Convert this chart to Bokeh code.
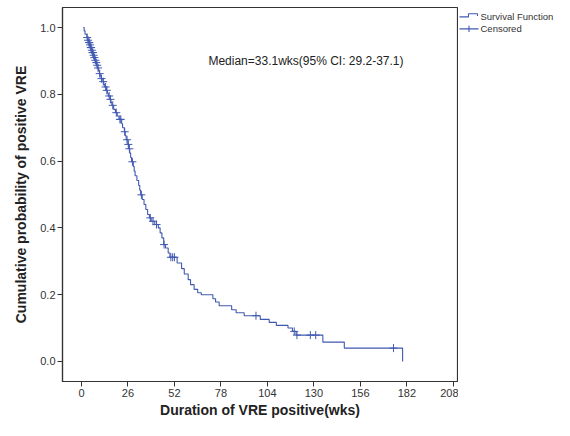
import numpy as np
from bokeh.plotting import figure
from bokeh.layouts import row
from bokeh.models import Range1d, Label, FixedTicker
from bokeh.core.properties import value
from bokeh.embed import file_html
from bokeh.resources import INLINE

# ---- data ----
start_week = 1.0
event_weeks = [1.5, 2, 3, 3.5, 4, 4.5, 5, 5.5, 6, 6.5,
               7, 7.5, 8, 8.5, 9, 9.5, 10, 10.5, 11, 12,
               12.5, 13, 14, 14.5, 15, 16, 16.5, 17, 18, 19,
               20, 21, 22.5, 23, 24, 24.5, 25, 26, 26.5, 27,
               27.5, 28, 29, 29.5, 30, 31, 32, 32.6, 33.1, 34,
               35, 36, 37, 38, 39, 41, 43, 44, 45, 46,
               47, 48.5, 49.5, 53.5, 56, 57.5, 59.7, 61, 63, 65,
               67, 73.5, 75, 77, 84, 86.5, 91, 100, 105, 109,
               115.5, 118, 120, 135, 147, 179.6]
survival = [0.99, 0.98, 0.97, 0.962, 0.955, 0.948, 0.94, 0.932, 0.925, 0.917,
            0.91, 0.902, 0.895, 0.887, 0.879, 0.871, 0.862, 0.855, 0.847, 0.838,
            0.83, 0.822, 0.812, 0.803, 0.795, 0.785, 0.776, 0.767, 0.755, 0.745,
            0.735, 0.725, 0.712, 0.70, 0.688, 0.676, 0.664, 0.65, 0.637, 0.624,
            0.611, 0.598, 0.584, 0.57, 0.556, 0.542, 0.527, 0.513, 0.499, 0.485,
            0.47, 0.455, 0.44, 0.43, 0.42, 0.41, 0.40, 0.385, 0.37, 0.35,
            0.34, 0.325, 0.312, 0.295, 0.278, 0.262, 0.245, 0.23, 0.216, 0.206,
            0.2, 0.188, 0.178, 0.167, 0.155, 0.146, 0.137, 0.126, 0.117, 0.108,
            0.1, 0.09, 0.079, 0.058, 0.04, 0.0]
censored_weeks = [3.2, 3.7, 4.2, 4.4, 4.8, 5.2, 5.4, 5.8, 6.2, 6.4,
                  6.8, 7.2, 7.8, 8.3, 8.8, 9.3, 10.2, 11.2, 12.2, 13.5,
                  14.2, 15.5, 16.2, 17.5, 19.5, 21.5, 22, 24.2, 25.5, 26.2,
                  26.8, 28.5, 33.5, 38.5, 40, 42, 46.2, 50, 51, 52,
                  97.6, 119, 120.5, 128, 131, 174.5]
x_ticks = [0, 26, 52, 78, 104, 130, 156, 182, 208]
y_ticks = [0.0, 0.2, 0.4, 0.6, 0.8, 1.0]
legend_labels = ["Survival Function", "Censored"]
median_text = "Median=33.1wks(95% CI: 29.2-37.1)"

# ---- derived ----
step_x = [start_week] + event_weeks
step_y = [1.0] + survival
idx = np.searchsorted(np.array(event_weeks), np.array(censored_weeks), side="right")
cens_y = [step_y[i] for i in idx]

COLOR = "#4059b0"
FONT = "Liberation Sans"

p = figure(width=458, height=420, output_backend="svg", toolbar_location=None,
           x_range=Range1d(-10.6, 210.3), y_range=Range1d(-0.06, 1.06),
           min_border_left=62, min_border_right=1, min_border_top=7,
           min_border_bottom=35)
p.background_fill_color = "white"
p.border_fill_color = "white"
p.outline_line_color = "#333333"
p.outline_line_width = 1.2
p.grid.visible = False

p.step(step_x, step_y, mode="after", line_color=COLOR, line_width=1.1)
p.scatter(censored_weeks, cens_y, marker="cross", size=8,
          line_color=COLOR, line_width=1)

for ax in (p.xaxis[0], p.yaxis[0]):
    ax.axis_line_color = "#333333"
    ax.axis_line_width = 1.2
    ax.major_tick_line_color = "#333333"
    ax.major_tick_in = 0
    ax.major_tick_out = 5
    ax.minor_tick_line_color = None
    ax.major_label_text_font = FONT
    ax.major_label_text_font_size = "11px"
    ax.major_label_text_color = "#333333"
    ax.axis_label_text_font = FONT
    ax.axis_label_text_font_style = "bold"
    ax.axis_label_text_font_size = "14px"
    ax.axis_label_text_color = "#222222"

p.xaxis.ticker = FixedTicker(ticks=x_ticks)
p.yaxis.ticker = FixedTicker(ticks=y_ticks)
p.yaxis.major_label_overrides = {v: f"{v:.1f}" for v in y_ticks}
p.xaxis.axis_label = "Duration of VRE positive(wks)"
p.yaxis.axis_label = "Cumulative probability of positive VRE"
p.xaxis.major_label_standoff = 2
p.xaxis.axis_label_standoff = 2
p.yaxis.major_label_standoff = 2
p.yaxis.axis_label_standoff = 8

p.add_layout(Label(x=71, y=0.90, text=median_text, text_font=FONT,
                   text_font_size="12px", text_color="#222222",
                   text_baseline="middle", text_align="left"))

# ---- legend panel (screen-like pixel coordinates, y downwards) ----
lg = figure(width=96, height=420, output_backend="svg", toolbar_location=None,
            x_range=Range1d(0, 96), y_range=Range1d(420, 0),
            min_border=0, x_axis_type=None, y_axis_type=None)
lg.outline_line_color = None
lg.grid.visible = False
lg.background_fill_color = "white"
lg.border_fill_color = "white"
# step-shaped icon for the survival function
lg.line([1, 10, 10, 19, 19], [10.5, 10.5, 7, 7, 9.5], line_color=COLOR, line_width=1.1)
# cross icon for censored
lg.line([1, 20], [24, 24], line_color=COLOR, line_width=1.1)
lg.line([10.5, 10.5], [20.5, 27.5], line_color=COLOR, line_width=1.1)
lg.text([22, 22], [10, 24], text=legend_labels, text_font=value(FONT),
        text_font_size="9.5px", text_color="#333333", text_baseline="middle")

layout = row(p, lg, spacing=0)
open("out.html", "w").write(file_html(layout, INLINE))
